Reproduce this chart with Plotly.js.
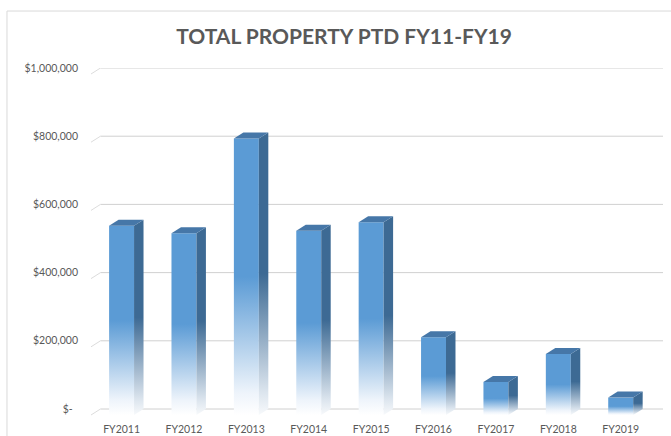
<!DOCTYPE html>
<html>
<head>
<meta charset="utf-8">
<script src="https://cdn.plot.ly/plotly-3.0.1.min.js"></script>
<style>html,body{margin:0;padding:0;background:#fff;}#chart{width:671px;height:436px;}</style>
</head>
<body>
<div id="chart"></div>
<script>
const categories = ['FY2011','FY2012','FY2013','FY2014','FY2015','FY2016','FY2017','FY2018','FY2019'];
const values = [555000, 533000, 811000, 540000, 565000, 228000, 97000, 179000, 51000];
const yTickVals = [0, 200000, 400000, 600000, 800000, 1000000];
const yTickText = ['$-\u00a0\u00a0', '$200,000', '$400,000', '$600,000', '$800,000', '$1,000,000'];

// pseudo-3D geometry (in axis units)
const hw = 0.2;      // half width of front face
const dx = 0.152;    // depth offset along x
const dy = 17600;    // depth offset along y
const xMin = -0.49, xMax = 8.678;

const frontScale = [[0,'#ffffff'],[0.08,'#eef4fb'],[0.5,'#5b9bd5'],[1,'#5b9bd5']];
const sideScale  = [[0,'#f7f9fb'],[0.08,'#dce5ee'],[0.5,'#3d6a94'],[1,'#3d6a94']];

const traces = [];
values.forEach((v, i) => {
  traces.push({
    type:'scatter', mode:'lines', line:{width:0}, fill:'toself',
    x:[i-hw, i+hw, i+hw, i-hw, i-hw], y:[-dy, -dy, v-dy, v-dy, -dy],
    fillgradient:{type:'vertical', colorscale:frontScale},
    hoverinfo:'skip', showlegend:false
  });
  traces.push({
    type:'scatter', mode:'lines', line:{width:0}, fill:'toself',
    x:[i+hw, i+hw+dx, i+hw+dx, i+hw, i+hw], y:[-dy, 0, v, v-dy, -dy],
    fillgradient:{type:'vertical', colorscale:sideScale},
    hoverinfo:'skip', showlegend:false
  });
  traces.push({
    type:'scatter', mode:'lines', line:{width:0}, fill:'toself', fillcolor:'#4677a8',
    x:[i-hw, i+hw, i+hw+dx, i-hw+dx, i-hw], y:[v-dy, v-dy, v, v, v-dy],
    hoverinfo:'skip', showlegend:false
  });
});

const shapes = [];
yTickVals.forEach(t => {
  shapes.push({type:'line', xref:'x', yref:'y', x0:xMin+dx, x1:xMax, y0:t, y1:t,
    line:{color:'#d0d0d0', width:1}, layer:'below'});
  shapes.push({type:'line', xref:'x', yref:'y', x0:xMin, x1:xMin+dx, y0:t-dy, y1:t,
    line:{color:'#dcdcdc', width:1}, layer:'below'});
});
shapes.push({type:'rect', xref:'paper', yref:'paper', x0:-0.1469, x1:1.3, y0:-0.4, y1:1.1623,
  line:{color:'#d9d9d9', width:1}, fillcolor:'rgba(0,0,0,0)', layer:'below'});

const layout = {
  width:671, height:436,
  margin:{l:91, r:8, t:68, b:17},
  paper_bgcolor:'#ffffff', plot_bgcolor:'rgba(0,0,0,0)',
  title:{text:'TOTAL PROPERTY PTD FY11-FY19', xref:'container', yref:'container',
    x:0.5127, y:0.915, xanchor:'center', yanchor:'middle',
    font:{family:'Lato, "Open Sans", sans-serif', size:21, color:'#595959', weight:'bold'}},
  xaxis:{range:[xMin, xMax], showgrid:false, zeroline:false, showline:false,
    tickvals:categories.map((c,i)=>i), ticktext:categories, ticks:'', ticklabelstandoff:2,
    tickfont:{family:'Lato, "Open Sans", sans-serif', size:10.5, color:'#595959'},
    fixedrange:true, automargin:false},
  yaxis:{range:[-29300, 1000000], showgrid:false, zeroline:false, showline:false,
    tickvals:yTickVals, ticktext:yTickText, ticks:'', ticklabelstandoff:12,
    tickfont:{family:'Lato, "Open Sans", sans-serif', size:10.5, color:'#595959'},
    fixedrange:true, automargin:false},
  shapes:shapes
};

Plotly.newPlot('chart', traces, layout, {staticPlot:true, displayModeBar:false});
</script>
</body>
</html>
